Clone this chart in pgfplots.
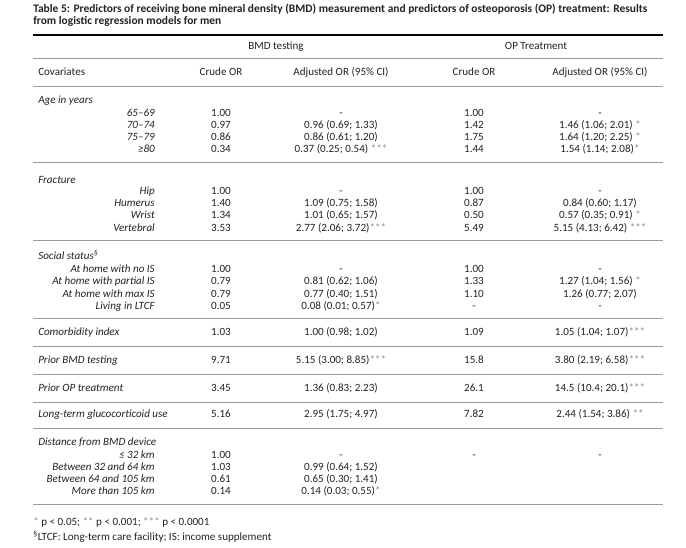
\documentclass[border=0pt]{standalone}
\usepackage{fontspec}
\setmainfont{Carlito}
\usepackage{pgfplots}
\pgfplotsset{compat=1.18}

\definecolor{txt}{HTML}{222222}
\definecolor{rule}{HTML}{9A9A9A}
\definecolor{star}{HTML}{8A8A8A}

% stars for significance, lighter grey
\newcommand{\st}[1]{\textcolor{star}{#1}}

% one table row: y, label, crude BMD, adjusted BMD, crude OP, adjusted OP
\newcommand{\tabrow}[6]{%
  \node[anchor=mid east] at (axis cs:155,#1) {\itshape #2};
  \node[anchor=mid] at (axis cs:221,#1) {#3};
  \node[anchor=mid] at (axis cs:341,#1) {#4};
  \node[anchor=mid] at (axis cs:474,#1) {#5};
  \node[anchor=mid] at (axis cs:600,#1) {#6};
}
% single-line covariate
\newcommand{\oneline}[6]{%
  \node[anchor=mid west] at (axis cs:38,#1) {\itshape #2};
  \node[anchor=mid] at (axis cs:221,#1) {#3};
  \node[anchor=mid] at (axis cs:341,#1) {#4};
  \node[anchor=mid] at (axis cs:474,#1) {#5};
  \node[anchor=mid] at (axis cs:600,#1) {#6};
}
\newcommand{\group}[2]{\node[anchor=mid west] at (axis cs:38,#1) {\itshape #2};}
\newcommand{\sep}[1]{\draw[rule, line width=0.7pt] (axis cs:33,#1) -- (axis cs:663,#1);}

\begin{document}
\begin{tikzpicture}[font=\fontsize{8.3}{10}\selectfont, every node/.style={text=txt, inner sep=0pt}]
\begin{axis}[
  width=514.5pt, height=411pt, scale only axis,
  xmin=0, xmax=686, ymin=0, ymax=548, y dir=reverse,
  hide axis, clip=false,
]
\path (axis cs:0,0) (axis cs:686,548);

% title
\node[anchor=mid west, font=\fontsize{8.6}{10}\selectfont\bfseries] at (axis cs:33,9)
  {Table 5: Predictors of receiving bone mineral density (BMD) measurement and predictors of osteoporosis (OP) treatment: Results};
\node[anchor=mid west, font=\fontsize{8.6}{10}\selectfont\bfseries] at (axis cs:33,21)
  {from logistic regression models for men};

\draw[black, line width=0.8pt] (axis cs:33,35) -- (axis cs:663,35);
\node[anchor=mid] at (axis cs:276,46) {BMD testing};
\node[anchor=mid] at (axis cs:536,46) {OP Treatment};
\sep{58}
\node[anchor=mid west] at (axis cs:38,72) {Covariates};
\node[anchor=mid] at (axis cs:221,72) {Crude OR};
\node[anchor=mid] at (axis cs:341,72) {Adjusted OR (95\% CI)};
\node[anchor=mid] at (axis cs:474,72) {Crude OR};
\node[anchor=mid] at (axis cs:600,72) {Adjusted OR (95\% CI)};
\sep{86}

% age
\group{100}{Age in years}
\tabrow{113}{65--69}{1.00}{-}{1.00}{-}
\tabrow{125}{70--74}{0.97}{0.96 (0.69; 1.33)}{1.42}{1.46 (1.06; 2.01) \st{*}}
\tabrow{137}{75--79}{0.86}{0.86 (0.61; 1.20)}{1.75}{1.64 (1.20; 2.25) \st{*}}
\tabrow{149}{≥80}{0.34}{0.37 (0.25; 0.54) \st{***}}{1.44}{1.54 (1.14; 2.08)\st{*}}
\sep{162}

% fracture
\group{180}{Fracture}
\tabrow{191}{Hip}{1.00}{-}{1.00}{-}
\tabrow{203}{Humerus}{1.40}{1.09 (0.75; 1.58)}{0.87}{0.84 (0.60; 1.17)}
\tabrow{215}{Wrist}{1.34}{1.01 (0.65; 1.57)}{0.50}{0.57 (0.35; 0.91) \st{*}}
\tabrow{228}{Vertebral}{3.53}{2.77 (2.06; 3.72)\st{***}}{5.49}{5.15 (4.13; 6.42) \st{***}}
\sep{240}

% social status
\group{256}{Social status\textsuperscript{\S}}
\tabrow{269}{At home with no IS}{1.00}{-}{1.00}{-}
\tabrow{281}{At home with partial IS}{0.79}{0.81 (0.62; 1.06)}{1.33}{1.27 (1.04; 1.56) \st{*}}
\tabrow{294}{At home with max IS}{0.79}{0.77 (0.40; 1.51)}{1.10}{1.26 (0.77; 2.07)}
\tabrow{306}{Living in LTCF}{0.05}{0.08 (0.01; 0.57)\st{*}}{-}{-}
\sep{318}

\oneline{332}{Comorbidity index}{1.03}{1.00 (0.98; 1.02)}{1.09}{1.05 (1.04; 1.07)\st{***}}
\sep{346}
\oneline{360}{Prior BMD testing}{9.71}{5.15 (3.00; 8.85)\st{***}}{15.8}{3.80 (2.19; 6.58)\st{***}}
\sep{374}
\oneline{388}{Prior OP treatment}{3.45}{1.36 (0.83; 2.23)}{26.1}{14.5 (10.4; 20.1)\st{***}}
\sep{402}
\oneline{414}{Long-term glucocorticoid use}{5.16}{2.95 (1.75; 4.97)}{7.82}{2.44 (1.54; 3.86) \st{**}}
\sep{428}

% distance
\group{442}{Distance from BMD device}
\tabrow{455}{≤ 32 km}{1.00}{-}{-}{-}
\tabrow{467}{Between 32 and 64 km}{1.03}{0.99 (0.64; 1.52)}{}{}
\tabrow{479}{Between 64 and 105 km}{0.61}{0.65 (0.30; 1.41)}{}{}
\tabrow{491}{More than 105 km}{0.14}{0.14 (0.03; 0.55)\st{*}}{}{}
\sep{504}

% footnotes
\node[anchor=mid west] at (axis cs:33,522) {\st{*} p < 0.05; \st{**} p < 0.001; \st{***} p < 0.0001};
\node[anchor=mid west] at (axis cs:33,537) {\textsuperscript{\S}LTCF: Long-term care facility; IS: income supplement};
\end{axis}
\end{tikzpicture}
\end{document}
